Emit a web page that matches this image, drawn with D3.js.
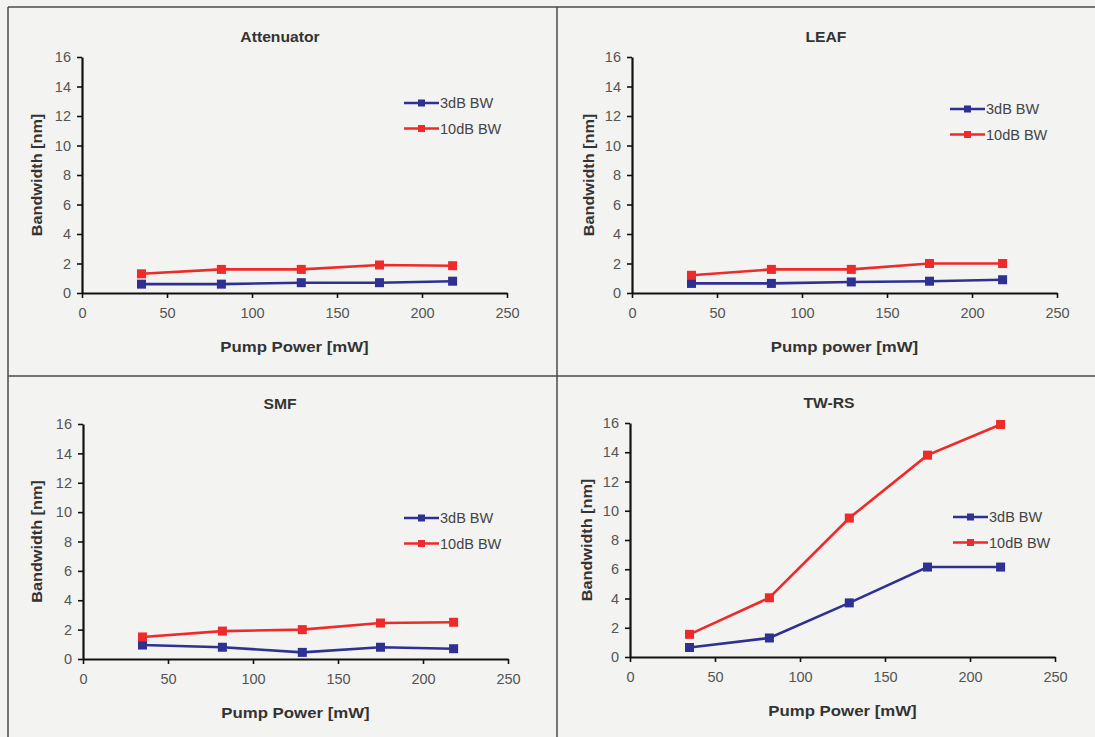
<!DOCTYPE html>
<html><head><meta charset="utf-8">
<script src="https://cdn.jsdelivr.net/npm/d3@7"></script>
<style>
html,body{margin:0;padding:0;background:#f4f4f2;}
svg{display:block;}
text{font-family:"Liberation Sans",Arial,sans-serif;}
</style></head>
<body>
<svg id="c" width="1095" height="737"></svg>
<script>
// ---- data ----
const pumpPower = [35, 82, 129, 175, 218];
const seriesNames = ["3dB BW", "10dB BW"];
const attenuator3dB = [0.6, 0.6, 0.7, 0.7, 0.8];
const attenuator10dB = [1.3, 1.6, 1.6, 1.9, 1.85];
const leaf3dB = [0.65, 0.65, 0.75, 0.8, 0.9];
const leaf10dB = [1.2, 1.6, 1.6, 2.0, 2.0];
const smf3dB = [0.95, 0.8, 0.45, 0.8, 0.7];
const smf10dB = [1.5, 1.9, 2.0, 2.45, 2.5];
const twrs3dB = [0.65, 1.3, 3.7, 6.15, 6.15];
const twrs10dB = [1.55, 4.05, 9.5, 13.8, 15.9];
const xTicks = [0, 50, 100, 150, 200, 250];
const yTicks = [0, 2, 4, 6, 8, 10, 12, 14, 16];
const titles = ["Attenuator", "LEAF", "SMF", "TW-RS"];
const xTitles = ["Pump Power [mW]", "Pump power [mW]", "Pump Power [mW]", "Pump Power [mW]"];
const yTitle = "Bandwidth [nm]";

// ---- layout ----
const colors = ["#2e3192", "#ee2a2a"];
const panels = [
  {x0: 82, x1: 507, y0: 293, y1: 57, tx: 280, ty: 37, ylx: 37, lx: 404, ly: 103, s: [attenuator3dB, attenuator10dB]},
  {x0: 632, x1: 1057, y0: 293, y1: 57, tx: 826, ty: 37, ylx: 589, lx: 950, ly: 109, s: [leaf3dB, leaf10dB]},
  {x0: 83, x1: 508, y0: 659, y1: 424, tx: 280, ty: 404, ylx: 37, lx: 404, ly: 518, s: [smf3dB, smf10dB]},
  {x0: 630, x1: 1055, y0: 657, y1: 423, tx: 829, ty: 403, ylx: 587, lx: 953, ly: 517, s: [twrs3dB, twrs10dB]}
];

const svg = d3.select("#c");
svg.append("rect").attr("width", 1095).attr("height", 737).attr("fill", "#f3f3f1");

// frame lines
const frame = svg.append("g").attr("stroke", "#4a4a4a").attr("stroke-width", 1.5);
frame.append("line").attr("x1", 8).attr("x2", 1095).attr("y1", 7).attr("y2", 7);
frame.append("line").attr("x1", 8).attr("x2", 8).attr("y1", 7).attr("y2", 737);
frame.append("line").attr("x1", 557).attr("x2", 557).attr("y1", 7).attr("y2", 737);
frame.append("line").attr("x1", 8).attr("x2", 1095).attr("y1", 376).attr("y2", 376);

function stretch(sel, factor) {
  sel.each(function () {
    const w = this.getComputedTextLength();
    d3.select(this).attr("textLength", w * factor).attr("lengthAdjust", "spacingAndGlyphs");
  });
}

panels.forEach((p, i) => {
  const x = d3.scaleLinear().domain([0, 250]).range([p.x0, p.x1]);
  const y = d3.scaleLinear().domain([0, 16]).range([p.y0, p.y1]);
  const g = svg.append("g");

  // axes
  const xa = g.append("g").attr("transform", `translate(0,${p.y0})`)
    .call(d3.axisBottom(x).tickValues(xTicks).tickSize(5).tickPadding(10).tickSizeOuter(0));
  const ya = g.append("g").attr("transform", `translate(${p.x0},0)`)
    .call(d3.axisLeft(y).tickValues(yTicks).tickSize(5).tickPadding(6).tickSizeOuter(0));
  [xa, ya].forEach(a => {
    a.select(".domain").attr("stroke", "#111").attr("stroke-width", 2.2);
    a.selectAll(".tick line").attr("stroke", "#111").attr("stroke-width", 1.6);
    a.selectAll(".tick text").attr("fill", "#555").style("font-size", "14.5px")
      .style("font-family", '"Liberation Sans",Arial,sans-serif');
  });

  // title
  const t = g.append("text").attr("x", p.tx).attr("y", p.ty).attr("dy", "0.35em")
    .attr("text-anchor", "middle").attr("font-weight", "bold").attr("font-size", 14)
    .attr("fill", "#333").text(titles[i]);
  stretch(t, 1.12);

  // x axis title
  const xt = g.append("text").attr("x", (p.x0 + p.x1) / 2).attr("y", p.y0 + 54).attr("dy", "0.35em")
    .attr("text-anchor", "middle").attr("font-weight", "bold").attr("font-size", 15)
    .attr("fill", "#333").text(xTitles[i]);
  stretch(xt, 1.12);

  // y axis title
  const yt = g.append("text").attr("transform", `translate(${p.ylx},${(p.y0 + p.y1) / 2}) rotate(-90)`)
    .attr("dy", "0.35em").attr("text-anchor", "middle").attr("font-weight", "bold").attr("font-size", 15)
    .attr("fill", "#333").text(yTitle);
  stretch(yt, 1.08);

  // series
  const line = d3.line().x((d, j) => x(pumpPower[j])).y(d => y(d));
  p.s.forEach((vals, k) => {
    g.append("path").datum(vals).attr("d", line).attr("fill", "none")
      .attr("stroke", colors[k]).attr("stroke-width", 2.6);
    g.selectAll(null).data(vals).enter().append("rect")
      .attr("x", (d, j) => x(pumpPower[j]) - 4.5).attr("y", d => y(d) - 4.5)
      .attr("width", 9).attr("height", 9).attr("fill", colors[k]);
  });

  // legend
  seriesNames.forEach((name, k) => {
    const ly = p.ly + k * 25.5;
    g.append("line").attr("x1", p.lx).attr("x2", p.lx + 35).attr("y1", ly).attr("y2", ly)
      .attr("stroke", colors[k]).attr("stroke-width", 2.4);
    g.append("rect").attr("x", p.lx + 14).attr("y", ly - 3.5).attr("width", 7).attr("height", 7)
      .attr("fill", colors[k]);
    g.append("text").attr("x", p.lx + 36).attr("y", ly).attr("dy", "0.36em")
      .attr("font-size", 14.5).attr("fill", "#444").text(name);
  });
});
</script>
</body></html>
